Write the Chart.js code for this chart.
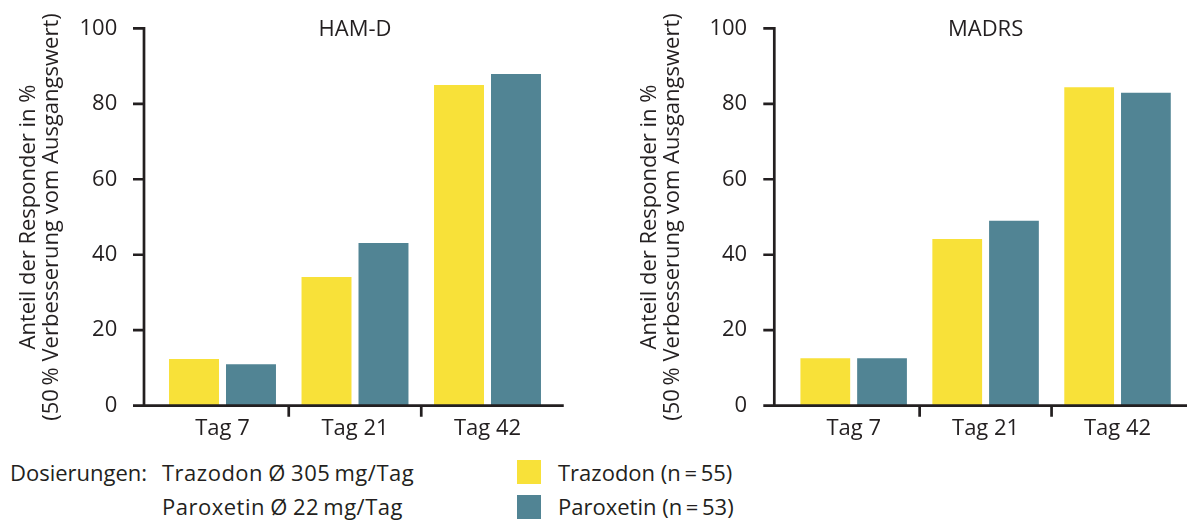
<!DOCTYPE html>
<html><head><meta charset="utf-8">
<script src="https://cdn.jsdelivr.net/npm/chart.js@4.4.1/dist/chart.umd.min.js"></script>
<style>
html,body{margin:0;padding:0;background:#fff;}
body{width:1187px;height:520px;position:relative;overflow:hidden;font-family:"Open Sans",sans-serif;color:#231f20;}
#c1{position:absolute;left:0;top:0;width:600px;height:450px;}
#c2{position:absolute;left:600px;top:0;width:587px;height:450px;}
.txt{position:absolute;font-size:22px;line-height:22px;white-space:nowrap;}
.dose{word-spacing:-1px;letter-spacing:0.5px;}
.sw{position:absolute;width:24px;height:24px;}
</style></head><body>
<canvas id="c1" width="600" height="450"></canvas>
<canvas id="c2" width="587" height="450"></canvas>
<div id="legend"></div>
<script>
// ---- data ----
const categories = ['Tag 7', 'Tag 21', 'Tag 42'];
const seriesNames = ['Trazodon (n\u2009=\u200955)', 'Paroxetin (n\u2009=\u200953)'];
const hamdTrazodon = [12.4, 34.1, 85.0];
const hamdParoxetin = [11.0, 43.1, 87.9];
const madrsTrazodon = [12.6, 44.2, 84.4];
const madrsParoxetin = [12.6, 49.0, 82.9];
const yTickValues = [0, 20, 40, 60, 80, 100];
const panelTitles = ['HAM-D', 'MADRS'];
const yAxisTitle = ['Anteil der Responder in %', '(50\u2009% Verbesserung vom Ausgangswert)'];
const doseLabel = 'Dosierungen:';
const doses = ['Trazodon \u00D8 305\u2009mg/Tag', 'Paroxetin \u00D8 22\u2009mg/Tag'];
const seriesColors = ['#f8e139', '#518494'];

const INK = '#231f20';
const FONT = '"Open Sans", sans-serif';
const FS = 22;

function axesPlugin(title, gap) {
  return {
    id: 'customAxes',
    afterDraw(chart) {
      const {ctx, chartArea: a, scales: {x, y}} = chart;
      const ax = a.left - gap;
      const y0 = y.getPixelForValue(0);
      const yTop = y.getPixelForValue(100);
      ctx.save();
      ctx.strokeStyle = INK;
      ctx.lineWidth = 2.7;
      ctx.beginPath();
      ctx.moveTo(ax, yTop - 1.35); ctx.lineTo(ax, y0);
      ctx.moveTo(ax - 11, y0); ctx.lineTo(a.right + 10, y0);
      yTickValues.forEach(v => {
        const py = y.getPixelForValue(v);
        ctx.moveTo(ax - 11, py); ctx.lineTo(ax, py);
      });
      for (let i = 1; i < categories.length; i++) {
        const px = (x.getPixelForValue(i - 1) + x.getPixelForValue(i)) / 2;
        ctx.moveTo(px, y0); ctx.lineTo(px, y0 + 11);
      }
      ctx.stroke();
      ctx.fillStyle = INK;
      ctx.font = FS + 'px ' + FONT;
      ctx.textAlign = 'center';
      ctx.textBaseline = 'middle';
      ctx.fillText(title, (a.left + a.right) / 2, 30);
      ctx.restore();
    }
  };
}

function makeChart(id, title, trazodon, paroxetin, yWidth, padRight, tickPad, titlePad, gap) {
  return new Chart(document.getElementById(id), {
    type: 'bar',
    data: {
      labels: categories,
      datasets: [
        {label: seriesNames[0], data: trazodon, backgroundColor: seriesColors[0], borderWidth: 0},
        {label: seriesNames[1], data: paroxetin, backgroundColor: seriesColors[1], borderWidth: 0}
      ]
    },
    options: {
      responsive: false,
      animation: false,
      devicePixelRatio: 1,
      categoryPercentage: 0.86,
      barPercentage: 0.877,
      layout: {padding: {left: 0, right: padRight, top: 28.3, bottom: 0}},
      plugins: {legend: {display: false}, tooltip: {enabled: false}, title: {display: false}},
      scales: {
        x: {
          type: 'category',
          offset: true,
          grid: {display: false, drawTicks: false},
          border: {display: false},
          ticks: {color: INK, font: {family: FONT, size: FS}, padding: 10},
          afterFit: s => { s.height = 44.3; s.paddingLeft = 0; s.paddingRight = 0; }
        },
        y: {
          min: 0, max: 100,
          afterBuildTicks: s => { s.ticks = yTickValues.map(v => ({value: v})); },
          grid: {display: false, drawTicks: false},
          border: {display: false},
          ticks: {color: INK, font: {family: FONT, size: FS}, padding: tickPad},
          title: {display: true, text: yAxisTitle, color: INK,
                  font: {family: FONT, size: FS, lineHeight: 1.05},
                  padding: {top: titlePad, bottom: 0}},
          afterFit: s => { s.width = yWidth; s.paddingTop = 0; s.paddingBottom = 0; }
        }
      }
    },
    plugins: [axesPlugin(title, gap)]
  });
}

makeChart('c1', panelTitles[0], hamdTrazodon, hamdParoxetin, 156.25, 46.25, 39, 17, 12.25);
makeChart('c2', panelTitles[1], madrsTrazodon, madrsParoxetin, 187.7, 3.5, 40.5, 38, 13.4);

// ---- legend (HTML) ----
const lg = document.getElementById('legend');
function addText(t, left, top, cls) {
  const d = document.createElement('div');
  d.className = 'txt' + (cls ? ' ' + cls : ''); d.textContent = t;
  d.style.left = left + 'px'; d.style.top = top + 'px';
  lg.appendChild(d);
}
addText(doseLabel, 10, 461);
addText(doses[0], 162, 461, 'dose');
addText(doses[1], 162, 494.5, 'dose');
seriesNames.forEach((n, i) => {
  const s = document.createElement('div');
  s.className = 'sw';
  s.style.background = seriesColors[i];
  s.style.left = '517px';
  s.style.top = (460 + i * 35) + 'px';
  lg.appendChild(s);
  addText(n, 558, 461 + i * 33.5);
});
</script>
</body></html>
